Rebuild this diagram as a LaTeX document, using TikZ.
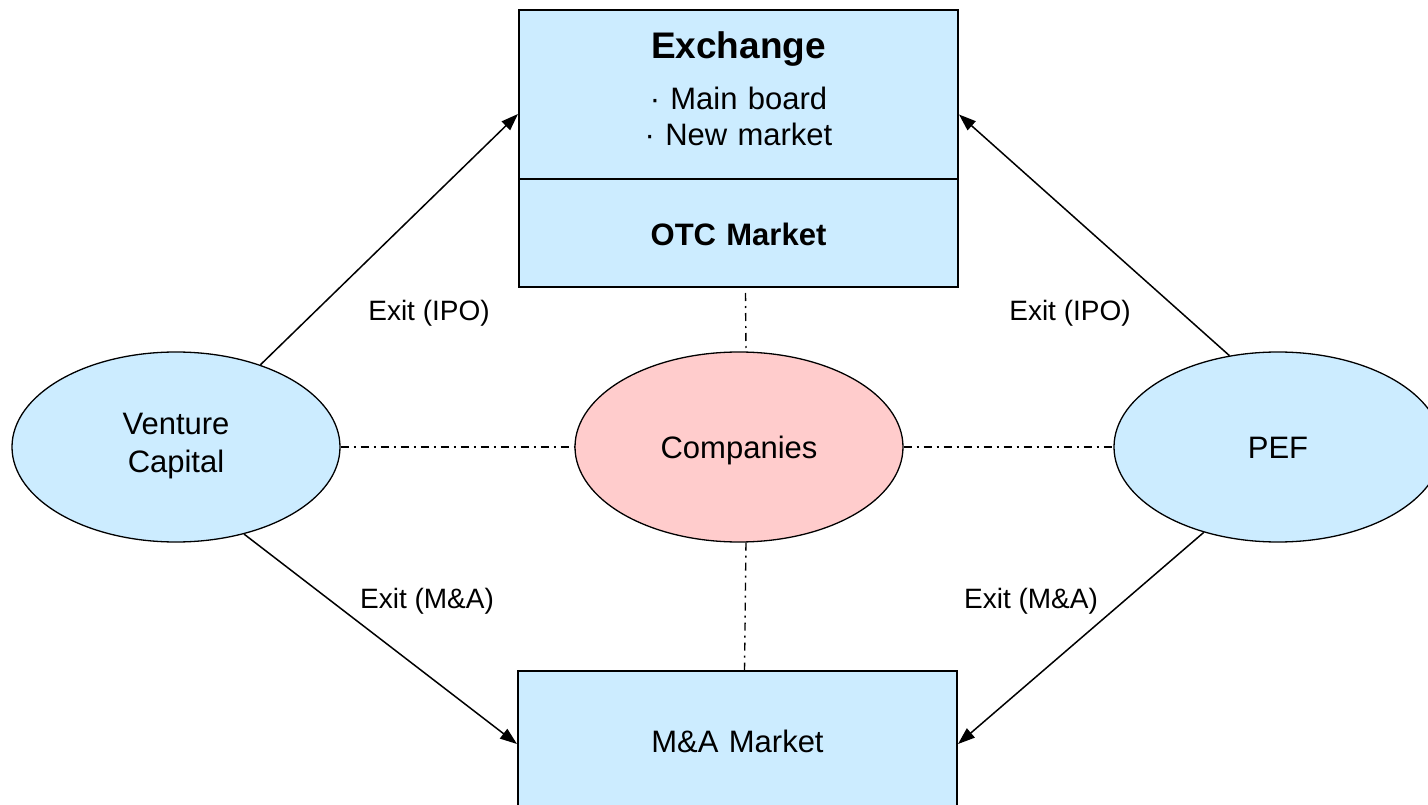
\documentclass[tikz,border=0pt]{standalone}
\usepackage{fontspec}
\setmainfont{Liberation Sans}
\usetikzlibrary{shapes.geometric,arrows.meta}
\definecolor{paleblue}{HTML}{CCECFF}
\definecolor{palepink}{HTML}{FFCCCC}
\begin{document}
\begin{tikzpicture}[x=1pt,y=-1pt,
  market/.style={draw, rectangle, line width=2pt, fill=paleblue, inner sep=0pt,
    minimum width=439pt},
  actor/.style={draw, ellipse, line width=1.3pt, fill=paleblue, inner sep=0pt,
    minimum width=328pt, minimum height=190pt, text height=22pt, text depth=0pt,
    font=\fontsize{31}{38}\selectfont},
  body/.style={font=\fontsize{31}{36}\selectfont, align=center, text width=300pt,
    anchor=base},
  flow/.style={line width=1.5pt, -{Triangle[length=17pt,width=12pt]}},
  relation/.style={line width=1.4pt, dash pattern=on 8pt off 5pt on 2pt off 5pt},
  exitlabel/.style={font=\fontsize{28}{34}\selectfont, anchor=base}]
\useasboundingbox (0,0) rectangle (1428,805);
\clip (0,0) rectangle (1428,805);
\fill[white] (0,0) rectangle (1428,805);

% markets
\node[market, minimum height=169pt] (exch) at (738.5,94.5) {};
\node[market, minimum height=108pt] (otc) at (738.5,233) {};
\node[market, minimum height=140pt] (mab) at (737.5,741) {};
\node[body, font=\fontsize{37}{40}\selectfont\bfseries] (exchtitle) at (738.5,59) {Exchange};
\node[body] (boards) at (738.5,110) {· Main board\\· New market};
\node[body, font=\fontsize{31}{36}\selectfont\bfseries] (otctext) at (738.5,246) {OTC Market};
\node[body] (matext) at (737.5,752) {M\&A Market};

% participants
\node[actor] (vc) at (176,447) {};
\node[body, font=\fontsize{31}{38}\selectfont] (vctext) at (176,434) {Venture\\Capital};
\node[actor, fill=palepink] (comp) at (739,447) {Companies};
\node[actor] (pef) at (1278,447) {PEF};

% relations to the companies
\draw[relation] (vc) -- (comp);
\draw[relation] (comp) -- (pef);
\draw[relation] ([xshift=7pt,yshift=-5pt]otc.south) -- ([xshift=7pt]comp.north);
\draw[relation] ([xshift=7pt]comp.south) -- ([xshift=7pt]mab.north);

% exit routes
\draw[flow] (vc) -- ([yshift=-19.5pt]exch.west);
\draw[flow] (pef.118) -- ([yshift=-20pt]exch.east);
\draw[flow] (vc.-52) -- ([yshift=-3pt]mab.west);
\draw[flow] (pef.-131) -- ([yshift=-3pt]mab.east);

\node[exitlabel] (ipoleft) at (429,320) {Exit (IPO)};
\node[exitlabel] (iporight) at (1070,320) {Exit (IPO)};
\node[exitlabel] (maleft) at (427,608) {Exit (M\&A)};
\node[exitlabel] (maright) at (1031,608) {Exit (M\&A)};
\end{tikzpicture}
\end{document}
